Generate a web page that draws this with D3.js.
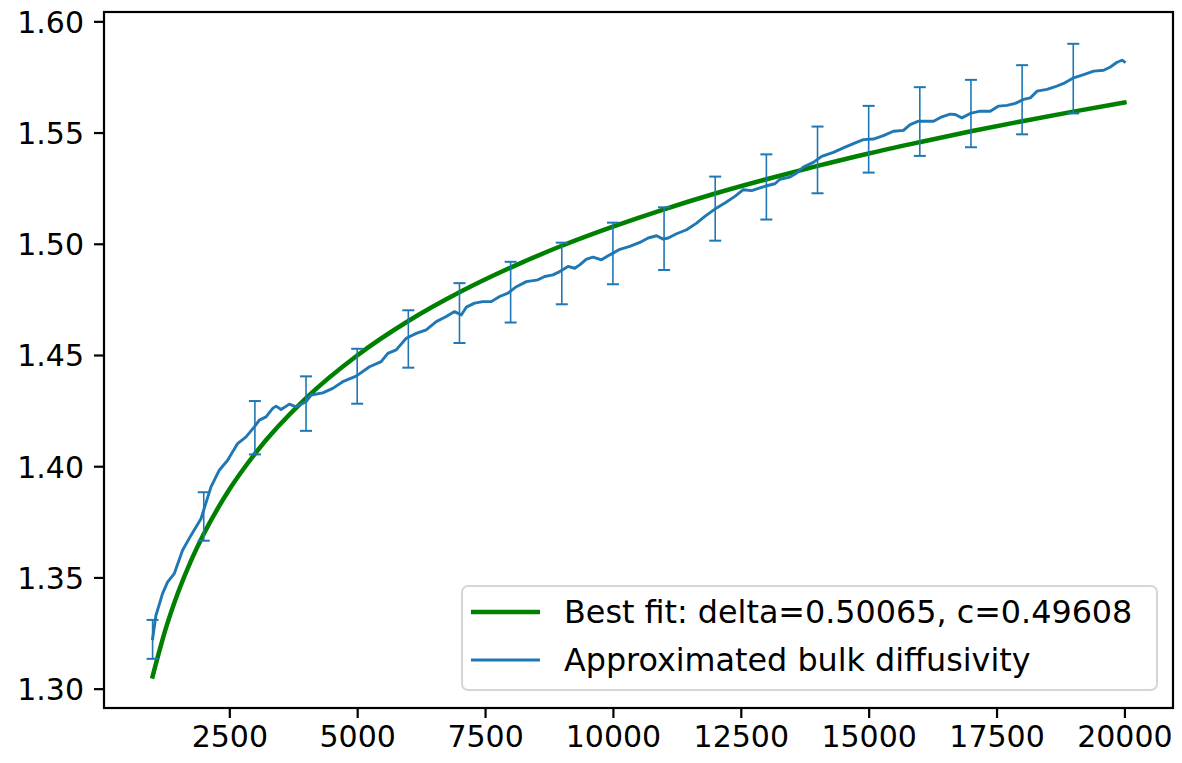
<!DOCTYPE html>
<html>
<head>
<meta charset="utf-8">
<script src="https://cdn.jsdelivr.net/npm/d3@7"></script>
<style>
  html, body { margin: 0; padding: 0; background: #fff; }
  svg { display: block; }
  text { font-family: "DejaVu Sans", sans-serif; fill: #000; }
</style>
</head>
<body>
<svg id="chart" width="1182" height="763"></svg>
<script>
// ---------------- data ----------------
const xTicks = [2500, 5000, 7500, 10000, 12500, 15000, 17500, 20000];
const yTicks = [1.30, 1.35, 1.40, 1.45, 1.50, 1.55, 1.60];

// best fit curve values
const fitX = [1000, 1250, 1500, 1750, 2000, 2500, 3000, 4000, 5000, 6000, 7000, 8000, 9000,
              10000, 11000, 12000, 13000, 14000, 15000, 16000, 17000, 18000, 19000, 20000];
const fitY = [1.3055, 1.3264, 1.3433, 1.3574, 1.3695, 1.3895, 1.4056, 1.4306, 1.4498, 1.4653, 1.4782, 1.4893, 1.4991,
              1.5077, 1.5155, 1.5226, 1.5290, 1.5350, 1.5406, 1.5457, 1.5506, 1.5551, 1.5594, 1.5635];

// approximated bulk diffusivity
const bulkX = [1000, 1065, 1194, 1292, 1423, 1586, 1750, 1946, 2142, 2304, 2467, 2662, 2827, 2989, 3087, 3218,
  3348, 3414, 3512, 3674, 3805, 3935, 4001, 4099, 4326, 4522, 4718, 4980, 5241, 5469, 5599, 5763, 5959,
  6155, 6350, 6546, 6742, 6904, 7035, 7133, 7296, 7458, 7622, 7785, 7948, 8112, 8308, 8535, 8666, 8829,
  8960, 9122, 9253, 9351, 9482, 9612, 9776, 9906, 10003, 10134, 10330, 10526, 10689, 10853, 10983, 11080,
  11244, 11440, 11636, 11798, 11994, 12190, 12385, 12548, 12712, 12875, 13006, 13168, 13266, 13462, 13593,
  13723, 13919, 14082, 14310, 14505, 14701, 14897, 15093, 15288, 15484, 15680, 15811, 15974, 16137, 16268,
  16431, 16594, 16692, 16823, 16986, 17181, 17377, 17540, 17704, 17867, 18029, 18160, 18291, 18487, 18649,
  18812, 19008, 19204, 19400, 19595, 19726, 19856, 19954, 20000];
const bulkY = [1.3224, 1.3329, 1.3427, 1.3479, 1.3517, 1.3622, 1.3689, 1.3764, 1.3907, 1.3982, 1.4027, 1.4102,
  1.4132, 1.4177, 1.4207, 1.4222, 1.4260, 1.4270, 1.4255, 1.4279, 1.4267, 1.4282, 1.4290, 1.4320, 1.4330,
  1.4350, 1.4380, 1.4405, 1.4447, 1.4470, 1.4507, 1.4523, 1.4575, 1.4597, 1.4613, 1.4650, 1.4673, 1.4695,
  1.4680, 1.4715, 1.4733, 1.4740, 1.4740, 1.4763, 1.4778, 1.4807, 1.4830, 1.4838, 1.4853, 1.4860, 1.4875,
  1.4898, 1.4890, 1.4905, 1.4931, 1.4940, 1.4928, 1.4946, 1.4958, 1.4975, 1.4988, 1.5006, 1.5026, 1.5036,
  1.5021, 1.5026, 1.5045, 1.5063, 1.5093, 1.5123, 1.5156, 1.5183, 1.5213, 1.5243, 1.5239, 1.5251, 1.5261,
  1.5270, 1.5290, 1.5300, 1.5318, 1.5345, 1.5366, 1.5393, 1.5411, 1.5431, 1.5450, 1.5468, 1.5471, 1.5486,
  1.5506, 1.5510, 1.5536, 1.5551, 1.5551, 1.5551, 1.5571, 1.5583, 1.5581, 1.5566, 1.5586, 1.5596, 1.5596,
  1.5619, 1.5622, 1.5631, 1.5649, 1.5656, 1.5686, 1.5694, 1.5706, 1.5721, 1.5746, 1.5761, 1.5776, 1.5780,
  1.5795, 1.5816, 1.5825, 1.5818];

// error bars
const errX = [1000, 2000, 3000, 4000, 5000, 6000, 7000, 8000, 9000, 10000,
              11000, 12000, 13000, 14000, 15000, 16000, 17000, 18000, 19000];
const errLow = [1.3134, 1.3665, 1.4053, 1.4159, 1.4281, 1.4443, 1.4554, 1.4646, 1.4728, 1.4818,
                1.4882, 1.5014, 1.5109, 1.5227, 1.5320, 1.5395, 1.5434, 1.5492, 1.5586];
const errHigh = [1.3309, 1.3883, 1.4293, 1.4404, 1.4528, 1.4701, 1.4823, 1.4919, 1.5005, 1.5095,
                 1.5164, 1.5302, 1.5402, 1.5527, 1.5620, 1.5704, 1.5737, 1.5803, 1.5899];

const legendLabels = ["Best fit: delta=0.50065, c=0.49608", "Approximated bulk diffusivity"];

// ---------------- layout ----------------
const L = 104, R = 1173, T = 12, B = 708;
const BLUE = "#1f77b4", GREEN = "#008000";
const FS = 30, LFS = 31.8;

const svg = d3.select("#chart");
const x = d3.scaleLinear().domain([50, 20950]).range([L, R]);
const y = d3.scaleLinear().domain([1.2913, 1.6042]).range([B, T]);

const plot = svg.append("g");

// fit line
const fitData = fitX.map((d, i) => [d, fitY[i]]);
plot.append("path")
  .datum(fitData)
  .attr("fill", "none")
  .attr("stroke", GREEN)
  .attr("stroke-width", 4.5)
  .attr("stroke-linecap", "square")
  .attr("d", d3.line().x(d => x(d[0])).y(d => y(d[1])).curve(d3.curveMonotoneX));

// bulk line
const bulkData = bulkX.map((d, i) => [d, bulkY[i]]);
plot.append("path")
  .datum(bulkData)
  .attr("fill", "none")
  .attr("stroke", BLUE)
  .attr("stroke-width", 2.9)
  .attr("stroke-linejoin", "round")
  .attr("stroke-linecap", "square")
  .attr("d", d3.line().x(d => x(d[0])).y(d => y(d[1])));

// error bars
const errData = errX.map((d, i) => ({x: d, lo: errLow[i], hi: errHigh[i]}));
const eb = plot.append("g");
eb.selectAll("line.v").data(errData).join("line")
  .attr("x1", d => x(d.x)).attr("x2", d => x(d.x))
  .attr("y1", d => y(d.lo)).attr("y2", d => y(d.hi))
  .attr("stroke", BLUE).attr("stroke-width", 1.6);
["lo", "hi"].forEach(k => {
  eb.append("g").selectAll("line").data(errData).join("line")
    .attr("x1", d => x(d.x) - 6).attr("x2", d => x(d.x) + 6)
    .attr("y1", d => y(d[k])).attr("y2", d => y(d[k]))
    .attr("stroke", BLUE).attr("stroke-width", 2);
});

// axes
const xAxis = d3.axisBottom(x).tickValues(xTicks).tickSize(10).tickPadding(8).tickFormat(d3.format("d"));
const yAxis = d3.axisLeft(y).tickValues(yTicks).tickSize(10).tickPadding(10).tickFormat(d3.format(".2f"));

const gx = svg.append("g").attr("transform", `translate(0,${B})`).call(xAxis);
const gy = svg.append("g").attr("transform", `translate(${L},0)`).call(yAxis);
[gx, gy].forEach(g => {
  g.select(".domain").remove();
  g.selectAll(".tick line").attr("stroke", "#000").attr("stroke-width", 2.2);
  g.selectAll(".tick text").attr("font-size", FS).attr("font-family", "DejaVu Sans").attr("fill", "#000");
});
gy.selectAll(".tick text").attr("dy", "0.36em");

// frame
svg.append("rect")
  .attr("x", L).attr("y", T).attr("width", R - L).attr("height", B - T)
  .attr("fill", "none").attr("stroke", "#000").attr("stroke-width", 2.2);

// legend
const lg = svg.append("g");
lg.append("rect")
  .attr("x", 462).attr("y", 586).attr("width", 695).attr("height", 104)
  .attr("rx", 6).attr("ry", 6)
  .attr("fill", "#fff").attr("fill-opacity", 0.8)
  .attr("stroke", "#d6d6d6").attr("stroke-width", 2);
const legendItems = [
  {label: legendLabels[0], color: GREEN, w: 4.5, y: 612},
  {label: legendLabels[1], color: BLUE, w: 2.9, y: 660}
];
legendItems.forEach(it => {
  lg.append("line").attr("x1", 471).attr("x2", 540).attr("y1", it.y).attr("y2", it.y)
    .attr("stroke", it.color).attr("stroke-width", it.w);
  lg.append("text").attr("x", 564).attr("y", it.y).attr("dy", "0.36em")
    .attr("font-size", LFS).text(it.label);
});
</script>
</body>
</html>
